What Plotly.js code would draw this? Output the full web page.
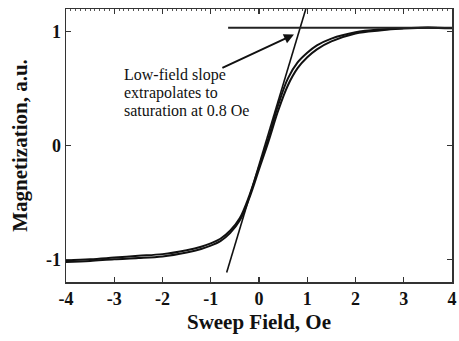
<!DOCTYPE html>
<html>
<head>
<meta charset="utf-8">
<script src="https://cdn.plot.ly/plotly-3.0.1.min.js"></script>
<style>html,body{margin:0;padding:0;background:#fff;}#chart{width:459px;height:341px;}</style>
</head>
<body>
<div id="chart"></div>
<script>
// Sweep field (Oe)
const field = [-4, -3.5, -3, -2.5, -2, -1.5, -1.2, -1, -0.8, -0.6, -0.4, -0.2, 0, 0.2, 0.4, 0.6, 0.8, 1.0, 1.2, 1.5, 2, 2.5, 3, 3.5, 4];
// Magnetization, descending sweep (upper branch)
const magDown = [-1.01, -1.0, -0.985, -0.97, -0.955, -0.92, -0.89, -0.86, -0.82, -0.75, -0.64, -0.44, -0.19, 0.07, 0.36, 0.59, 0.73, 0.815, 0.88, 0.94, 0.995, 1.02, 1.032, 1.038, 1.032];
// Magnetization, ascending sweep (lower branch)
const magUp = [-1.025, -1.015, -1.0, -0.99, -0.975, -0.94, -0.91, -0.88, -0.84, -0.77, -0.66, -0.46, -0.21, 0.04, 0.31, 0.53, 0.68, 0.775, 0.845, 0.915, 0.985, 1.012, 1.028, 1.036, 1.03];
// Low-field slope line
const slopeX = [-0.67, 0.97];
const slopeY = [-1.116, 1.2];
// Saturation level line
const satX = [-0.64, 4];
const satY = [1.035, 1.035];
// Annotation
const noteLines = ["Low-field slope", "extrapolates to", "saturation at 0.8 Oe"];
const noteX = -2.83;
const noteY = [0.617, 0.461, 0.308];
const arrowTail = [-0.79, 0.676];
const arrowHead = [0.725, 0.975];
// Ticks
const xTickVals = [-4, -3, -2, -1, 0, 1, 2, 3, 4];
const xTickText = ["-4", "-3", "-2", "-1", "0", "1", "2", "3", "4"];
const yTickVals = [-1, 0, 1];
const yTickText = ["-1", "0", "1"];

const serif = "Liberation Serif";
const ink = "#111";

const traces = [
  {x: field, y: magDown, mode: "lines", line: {color: ink, width: 2, shape: "spline", smoothing: 1}, hoverinfo: "skip"},
  {x: field, y: magUp, mode: "lines", line: {color: ink, width: 2, shape: "spline", smoothing: 1}, hoverinfo: "skip"},
  {x: slopeX, y: slopeY, mode: "lines", line: {color: ink, width: 1.6}, hoverinfo: "skip"},
  {x: satX, y: satY, mode: "lines", line: {color: "#222", width: 2}, xaxis: "x2", hoverinfo: "skip"}
];

const annotations = noteLines.map((t, i) => ({
  x: noteX, y: noteY[i], xref: "x", yref: "y", text: t, showarrow: false,
  xanchor: "left", yanchor: "middle", font: {family: serif, size: 16, color: ink, weight: 400}
}));
annotations.push({
  x: arrowHead[0], y: arrowHead[1], ax: arrowTail[0], ay: arrowTail[1],
  xref: "x", yref: "y", axref: "x", ayref: "y", text: "", showarrow: true,
  arrowhead: 2, arrowsize: 1, arrowwidth: 2, arrowcolor: ink, standoff: 0
});

const layout = {
  width: 459, height: 341,
  margin: {l: 66, r: 7, t: 9, b: 59},
  paper_bgcolor: "#fff", plot_bgcolor: "#fff",
  showlegend: false,
  font: {family: serif, color: ink, size: 18, weight: 700},
  xaxis: {
    range: [-4, 4], tickvals: xTickVals, ticktext: xTickText,
    ticks: "inside", ticklen: 5, tickwidth: 1.2, tickcolor: "#333",
    showline: true, linecolor: "#333", linewidth: 1.5, mirror: true,
    showgrid: false, zeroline: false,
    title: {text: "Sweep Field, Oe", font: {family: serif, size: 21, color: ink, weight: 700}, standoff: 6}
  },
  xaxis2: {
    range: [-4, 4], overlaying: "x", side: "top", anchor: "y",
    tickvals: xTickVals, showticklabels: false,
    ticks: "inside", ticklen: 5, tickwidth: 1.2, tickcolor: "#333",
    minor: {ticks: "inside", dtick: 0.1, tick0: 0, ticklen: 2, tickwidth: 1, tickcolor: "#555"},
    showline: false, showgrid: false, zeroline: false
  },
  yaxis: {
    range: [-1.2, 1.2], tickvals: yTickVals, ticktext: yTickText,
    ticks: "inside", ticklen: 5, tickwidth: 1.2, tickcolor: "#333",
    showline: true, linecolor: "#333", linewidth: 1.5, mirror: "ticks",
    showgrid: false, zeroline: false,
    title: {text: "Magnetization, a.u.", font: {family: serif, size: 21, color: ink, weight: 700}, standoff: 12}
  },
  annotations: annotations
};

Plotly.newPlot("chart", traces, layout, {staticPlot: true, displayModeBar: false});
</script>
</body>
</html>
